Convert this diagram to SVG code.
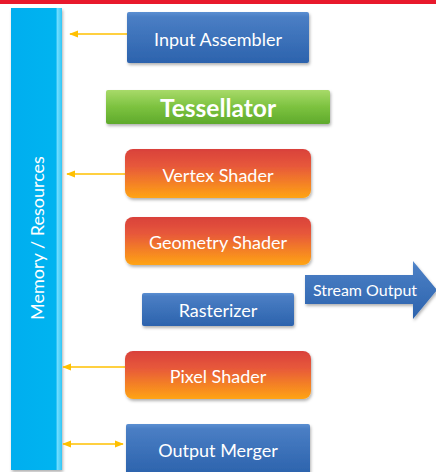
<svg xmlns="http://www.w3.org/2000/svg" width="436" height="472" viewBox="0 0 436 472">
  <style>
    .lbl { font-family: Lato, "Liberation Sans", sans-serif; fill: #ffffff; font-size: 18px; text-anchor: middle; dominant-baseline: central; }
    .big { font-size: 24.5px; font-weight: bold; }
    .conn { stroke: #FFC000; stroke-width: 1.5; fill: none; }
  </style>
  <defs>
    <linearGradient id="blue" x1="0" y1="0" x2="0" y2="1">
      <stop offset="0" stop-color="#5B8FD2"/>
      <stop offset="0.1" stop-color="#4A7EC4"/>
      <stop offset="1" stop-color="#2C63AD"/>
    </linearGradient>
    <linearGradient id="warm" x1="0" y1="0" x2="0" y2="1">
      <stop offset="0" stop-color="#D9413B"/>
      <stop offset="0.35" stop-color="#E7583A"/>
      <stop offset="1" stop-color="#FFA414"/>
    </linearGradient>
    <linearGradient id="green" x1="0" y1="0" x2="0" y2="1">
      <stop offset="0" stop-color="#A8DA6A"/>
      <stop offset="0.5" stop-color="#7CC23F"/>
      <stop offset="1" stop-color="#5FAA2C"/>
    </linearGradient>
    <linearGradient id="mem" x1="0" y1="0" x2="1" y2="0">
      <stop offset="0" stop-color="#00AEEF"/>
      <stop offset="0.88" stop-color="#00B4F0"/>
      <stop offset="0.91" stop-color="#6FDDFF"/>
      <stop offset="1" stop-color="#30C6F5"/>
    </linearGradient>
    <filter id="sh" x="-10%" y="-10%" width="120%" height="130%">
      <feDropShadow dx="1" dy="2" stdDeviation="1.5" flood-color="#000" flood-opacity="0.3"/>
    </filter>
    <marker id="ah" viewBox="0 0 10 10" refX="9" refY="5" markerWidth="6" markerHeight="6" orient="auto-start-reverse">
      <path d="M0,1 L10,5 L0,9 z" fill="#FFC000"/>
    </marker>
  </defs>

  <!-- top band -->
  <rect x="0" y="0" width="436" height="4" fill="#E8192C"/>

  <!-- shared memory column -->
  <g id="memory">
    <rect x="11" y="8" width="51" height="462" fill="url(#mem)" filter="url(#sh)"/>
    <text class="lbl" transform="translate(37,238) rotate(-90)">Memory / Resources</text>
  </g>

  <g id="connectors">
    <line class="conn" x1="127" y1="34" x2="70" y2="34" marker-end="url(#ah)"/>
    <line class="conn" x1="125" y1="174" x2="67" y2="174" marker-end="url(#ah)"/>
    <line class="conn" x1="125" y1="367" x2="63" y2="367" marker-end="url(#ah)"/>
    <line class="conn" x1="63" y1="444" x2="123" y2="444" marker-start="url(#ah)" marker-end="url(#ah)"/>
  </g>

  <g id="input-assembler">
    <rect x="127" y="12" width="182" height="51" rx="2" fill="url(#blue)" filter="url(#sh)"/>
    <text class="lbl" x="218" y="39">Input Assembler</text>
  </g>

  <g id="tessellator">
    <rect x="106" y="90" width="224" height="34" rx="2" fill="url(#green)" filter="url(#sh)"/>
    <text class="lbl big" x="218" y="107">Tessellator</text>
  </g>

  <g id="vertex-shader">
    <rect x="125" y="149" width="186" height="49" rx="8" fill="url(#warm)" filter="url(#sh)"/>
    <text class="lbl" x="218" y="175">Vertex Shader</text>
  </g>

  <g id="geometry-shader">
    <rect x="125" y="217" width="186" height="48" rx="8" fill="url(#warm)" filter="url(#sh)"/>
    <text class="lbl" x="218" y="242">Geometry Shader</text>
  </g>

  <g id="rasterizer">
    <rect x="142" y="293" width="152" height="33" rx="2" fill="url(#blue)" filter="url(#sh)"/>
    <text class="lbl" x="218" y="310">Rasterizer</text>
  </g>

  <g id="stream-output">
    <path d="M305,275 L413,275 L413,261 L437,290 L413,319 L413,304 L305,304 Z" fill="url(#blue)" filter="url(#sh)"/>
    <text class="lbl" x="365" y="289" style="font-size:16px">Stream Output</text>
  </g>

  <g id="pixel-shader">
    <rect x="125" y="351" width="186" height="48" rx="8" fill="url(#warm)" filter="url(#sh)"/>
    <text class="lbl" x="218" y="376">Pixel Shader</text>
  </g>

  <g id="output-merger">
    <rect x="126" y="424" width="184" height="50" rx="2" fill="url(#blue)" filter="url(#sh)"/>
    <text class="lbl" x="218" y="450">Output Merger</text>
  </g>
</svg>
